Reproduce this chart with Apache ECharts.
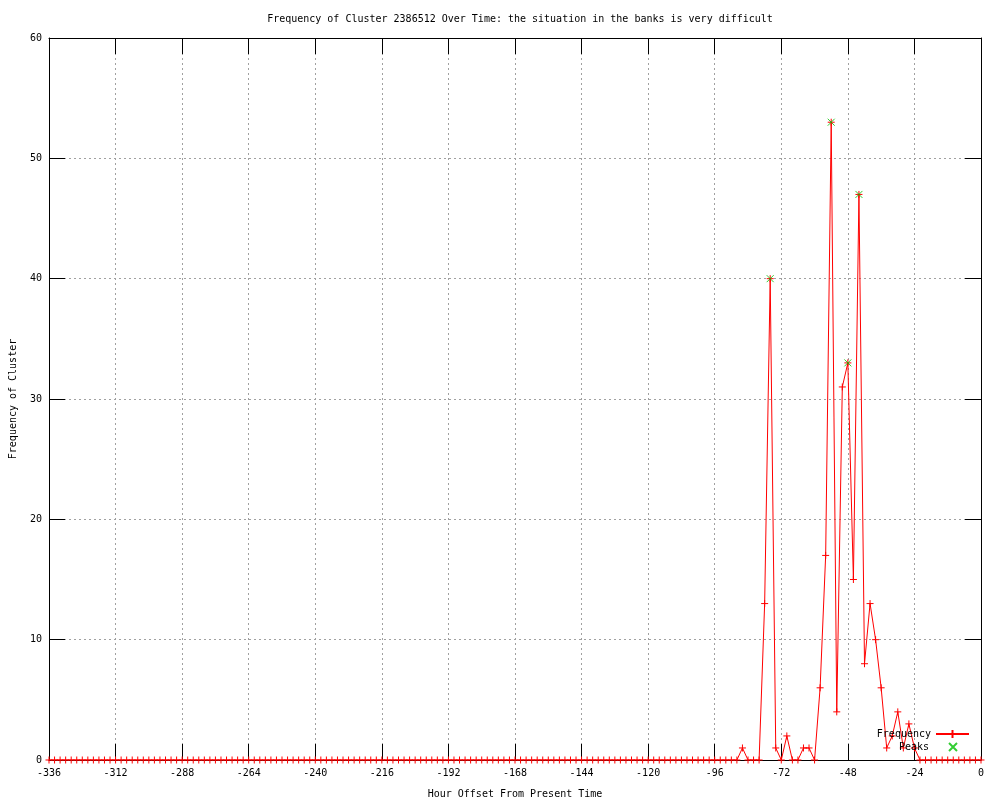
<!DOCTYPE html>
<html>
<head>
<meta charset="utf-8">
<script src="https://cdn.jsdelivr.net/npm/echarts@6/dist/echarts.min.js"></script>
<style>html,body{margin:0;padding:0;background:#fff;}#c{width:1000px;height:800px;}</style>
</head>
<body>
<div id="c"></div>
<script>
const hours = [-336,-334,-332,-330,-328,-326,-324,-322,-320,-318,-316,-314,
-312,-310,-308,-306,-304,-302,-300,-298,-296,-294,-292,-290,
-288,-286,-284,-282,-280,-278,-276,-274,-272,-270,-268,-266,
-264,-262,-260,-258,-256,-254,-252,-250,-248,-246,-244,-242,
-240,-238,-236,-234,-232,-230,-228,-226,-224,-222,-220,-218,
-216,-214,-212,-210,-208,-206,-204,-202,-200,-198,-196,-194,
-192,-190,-188,-186,-184,-182,-180,-178,-176,-174,-172,-170,
-168,-166,-164,-162,-160,-158,-156,-154,-152,-150,-148,-146,
-144,-142,-140,-138,-136,-134,-132,-130,-128,-126,-124,-122,
-120,-118,-116,-114,-112,-110,-108,-106,-104,-102,-100,-98,
-96,-94,-92,-90,-88,-86,-84,-82,-80,-78,-76,-74,
-72,-70,-68,-66,-64,-62,-60,-58,-56,-54,-52,-50,
-48,-46,-44,-42,-40,-38,-36,-34,-32,-30,-28,-26,
-24,-22,-20,-18,-16,-14,-12,-10,-8,-6,-4,-2,
0];
const frequency = [0,0,0,0,0,0,0,0,0,0,0,0,
0,0,0,0,0,0,0,0,0,0,0,0,
0,0,0,0,0,0,0,0,0,0,0,0,
0,0,0,0,0,0,0,0,0,0,0,0,
0,0,0,0,0,0,0,0,0,0,0,0,
0,0,0,0,0,0,0,0,0,0,0,0,
0,0,0,0,0,0,0,0,0,0,0,0,
0,0,0,0,0,0,0,0,0,0,0,0,
0,0,0,0,0,0,0,0,0,0,0,0,
0,0,0,0,0,0,0,0,0,0,0,0,
0,0,0,0,0,1,0,0,0,13,40,1,
0,2,0,0,1,1,0,6,17,53,4,31,
33,15,47,8,13,10,6,1,2,4,1,3,
1,0,0,0,0,0,0,0,0,0,0,0,
0];
const peakHours = [-76,-54,-48,-44];
const peakValues = [40,53,33,47];
const xTicks = {min:-336, max:0, interval:24};
const yTicks = {min:0, max:60, interval:10};

const FONT = 'DejaVu Sans Mono';
const plus = 'path://M0,5 L10,5 M5,0 L5,10';
const cross = 'path://M0,0 L10,10 M10,0 L0,10';

const chart = echarts.init(document.getElementById('c'));
const axisCommon = {
  axisLine:{show:true, onZero:false, lineStyle:{color:'#000', width:1}},
  axisTick:{show:true, inside:true, length:16, lineStyle:{color:'#000', width:1}}
};
chart.setOption({
  animation:false,
  backgroundColor:'#fff',
  title:{
    text:'Frequency of Cluster 2386512 Over Time: the situation in the banks is very difficult',
    left:515, top:9, textAlign:'center',
    textStyle:{fontFamily:FONT, fontSize:10, fontWeight:'normal', color:'#000'}
  },
  grid:{left:49, right:19, top:38, bottom:40, outerBoundsMode:'none'},
  legend:[
    {data:['Frequency'], right:25, top:724, align:'right', itemWidth:33, itemHeight:10, selectedMode:false,
     textStyle:{fontFamily:FONT, fontSize:10, color:'#000'}},
    {data:['Peaks'], right:37, top:737, align:'right', itemWidth:8, itemHeight:8, selectedMode:false,
     textStyle:{fontFamily:FONT, fontSize:10, color:'#000', padding:[0,15,0,0]}}
  ],
  xAxis:[
    Object.assign({type:'value', position:'bottom', min:xTicks.min, max:xTicks.max, interval:xTicks.interval,
      name:'Hour Offset From Present Time', nameLocation:'middle', nameGap:29,
      nameTextStyle:{fontFamily:FONT, fontSize:10, color:'#000'},
      axisLabel:{fontFamily:FONT, fontSize:10, color:'#000', margin:8},
      splitLine:{show:true, lineStyle:{color:'#a0a0a0', width:1, type:[2,3]}}}, axisCommon),
    Object.assign({type:'value', position:'top', min:xTicks.min, max:xTicks.max, interval:xTicks.interval,
      axisLabel:{show:false}, splitLine:{show:false}}, axisCommon)
  ],
  yAxis:[
    Object.assign({type:'value', position:'left', min:yTicks.min, max:yTicks.max, interval:yTicks.interval,
      name:'Frequency of Cluster', nameLocation:'middle', nameGap:31,
      nameTextStyle:{fontFamily:FONT, fontSize:10, color:'#000'},
      axisLabel:{fontFamily:FONT, fontSize:10, color:'#000', margin:7},
      splitLine:{show:true, lineStyle:{color:'#a0a0a0', width:1, type:[2,3]}}}, axisCommon),
    Object.assign({type:'value', position:'right', min:yTicks.min, max:yTicks.max, interval:yTicks.interval,
      axisLabel:{show:false}, splitLine:{show:false}}, axisCommon)
  ],
  series:[
    {
      name:'Frequency', type:'line', xAxisIndex:0, yAxisIndex:0,
      data:hours.map((h,i)=>[h, frequency[i]]),
      symbol:plus, symbolSize:7, showSymbol:true,
      lineStyle:{color:'#ff0000', width:1},
      itemStyle:{color:'#ff0000', borderColor:'#ff0000', borderWidth:1},
      emphasis:{disabled:true}, z:2
    },
    {
      name:'Peaks', type:'scatter', xAxisIndex:0, yAxisIndex:0,
      data:peakHours.map((h,i)=>[h, peakValues[i]]),
      symbol:cross, symbolSize:7, symbolKeepAspect:true,
      itemStyle:{color:'#00c000', borderColor:'#00c000', borderWidth:1},
      emphasis:{disabled:true}, z:3
    }
  ]
});
</script>
</body>
</html>
